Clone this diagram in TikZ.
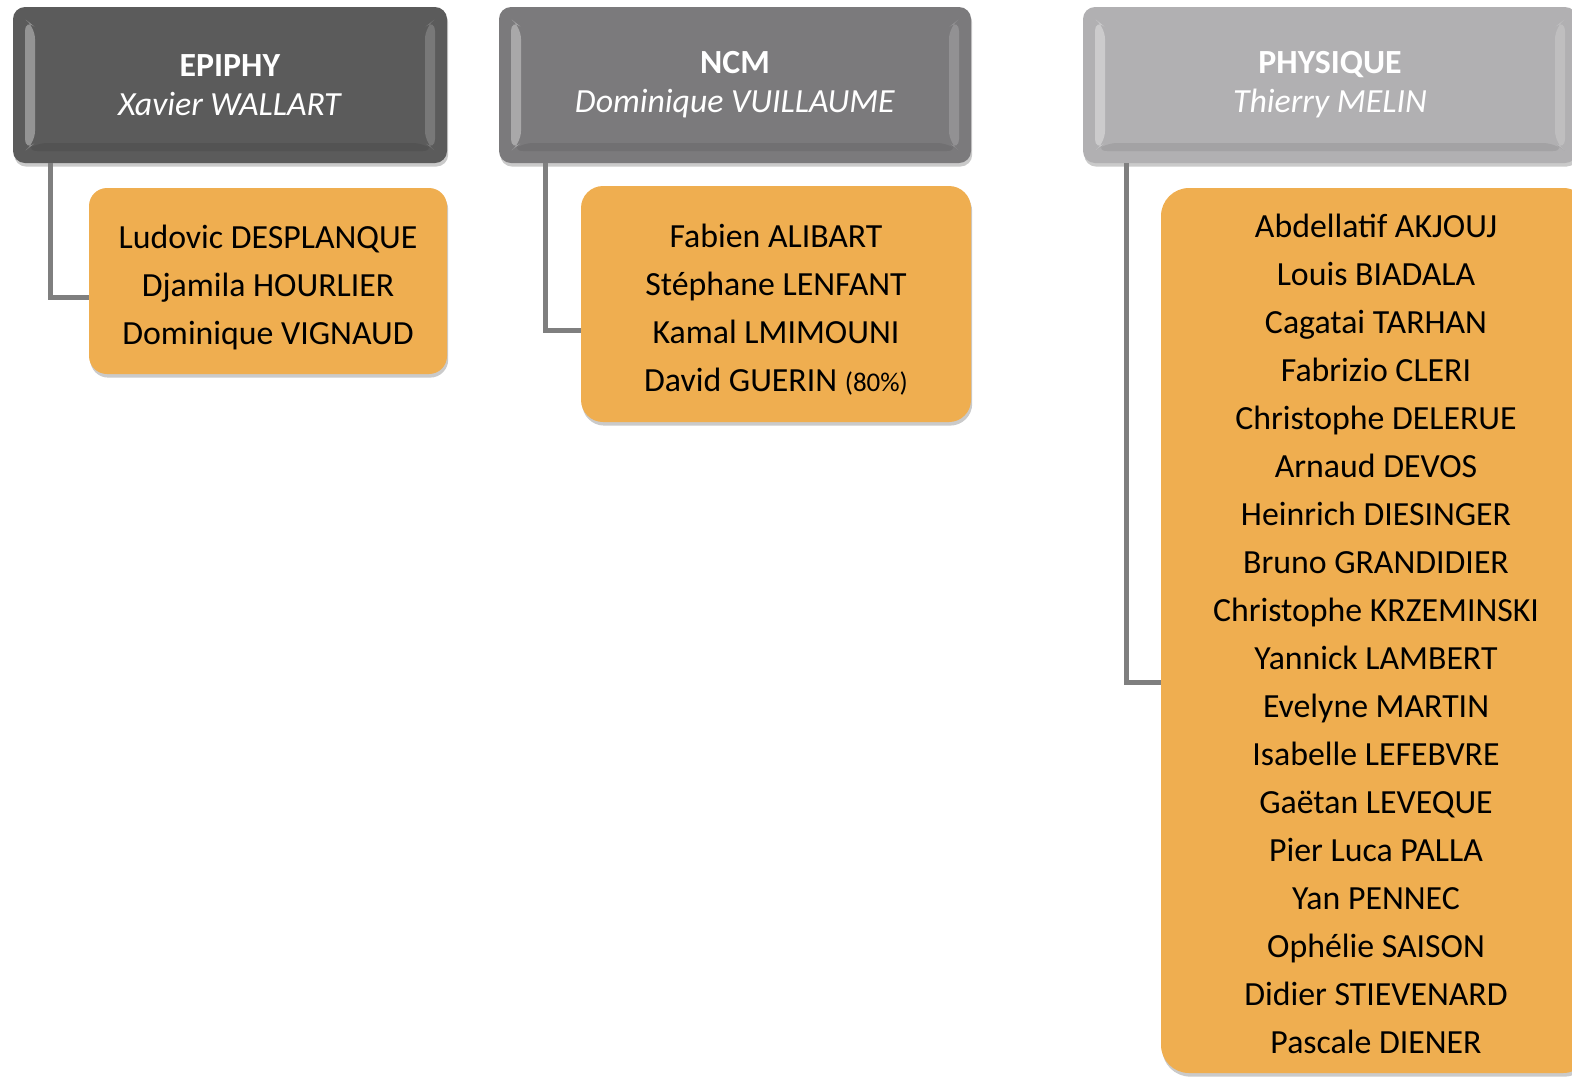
\documentclass[tikz,border=0pt]{standalone}
\usepackage{fontspec}
\setmainfont{Carlito}
\usepackage{xcolor}
\usetikzlibrary{shadows}
\definecolor{epi}{HTML}{5B5B5B}
\definecolor{ncm}{HTML}{7B7A7C}
\definecolor{phy}{HTML}{B1B0B2}
\definecolor{orng}{HTML}{EFAE50}
\definecolor{link}{HTML}{7F7F7F}
\newcommand{\mtop}{\rule{0pt}{20.2pt}}
\newcommand{\mbot}{\rule[-5pt]{0pt}{5pt}}
\tikzset{
  shade/.style={drop shadow={shadow xshift=0.6pt, shadow yshift=-1.8pt, opacity=0.35, fill=black!60}},
  bevel/.style={path picture={
    \fill[white,opacity=.35] ([shift={(6pt,-6pt)}]path picture bounding box.north west)
      -- ([shift={(11pt,-10pt)}]path picture bounding box.north west)
      -- ([shift={(11pt,10pt)}]path picture bounding box.south west)
      -- ([shift={(6pt,6pt)}]path picture bounding box.south west) -- cycle;
    \fill[white,opacity=.18] ([shift={(-6pt,-6pt)}]path picture bounding box.north east)
      -- ([shift={(-11pt,-10pt)}]path picture bounding box.north east)
      -- ([shift={(-11pt,10pt)}]path picture bounding box.south east)
      -- ([shift={(-6pt,6pt)}]path picture bounding box.south east) -- cycle;
    \fill[black,opacity=.08] ([shift={(6pt,6pt)}]path picture bounding box.south west)
      -- ([shift={(11pt,10pt)}]path picture bounding box.south west)
      -- ([shift={(-11pt,10pt)}]path picture bounding box.south east)
      -- ([shift={(-6pt,6pt)}]path picture bounding box.south east) -- cycle;
  }},
  head/.style={rectangle, rounded corners=6pt, text=white, align=center,
    minimum height=78pt, inner sep=0pt, shade, bevel,
    font=\fontsize{16.9}{19.5}\selectfont},
  member/.style={rectangle, fill=orng, text=black, align=center,
    inner sep=0pt, shade, font=\fontsize{16.9}{24}\selectfont},
  conn/.style={draw=link, line width=2.5pt},
}

\begin{document}
\begin{tikzpicture}[x=0.5pt,y=-0.5pt]
  \clip (0,0) rectangle (1572,1077);

  \node[head, fill=epi, minimum width=217pt] (hepi) at (230,85)
    {\textbf{EPIPHY}\\\textit{Xavier WALLART}};
  \node[head, fill=ncm, minimum width=236pt] (hncm) at (735,85)
    {\textbf{NCM}\\\textit{Dominique VUILLAUME}};
  \node[head, fill=phy, minimum width=247pt] (hphy) at (1330,85)
    {\textbf{PHYSIQUE}\\\textit{Thierry MELIN}};

  \node[member, rounded corners=9pt, minimum width=179pt, minimum height=93pt] (oepi) at (268,281)
    {\mtop Ludovic DESPLANQUE\\Djamila HOURLIER\\Dominique VIGNAUD\mbot};
  \node[member, rounded corners=11pt, minimum width=195pt, minimum height=118pt] (oncm) at (776,304)
    {\mtop Fabien ALIBART\\Stéphane LENFANT\\Kamal LMIMOUNI\\David GUERIN {\fontsize{13.5}{24}\selectfont(80\%)}\mbot};
  \node[member, rounded corners=14pt, minimum width=215pt, minimum height=442.5pt] (ophy) at (1376,630.5)
    {\mtop Abdellatif AKJOUJ\\Louis BIADALA\\Cagatai TARHAN\\Fabrizio CLERI\\Christophe DELERUE\\
     Arnaud DEVOS\\Heinrich DIESINGER\\Bruno GRANDIDIER\\Christophe KRZEMINSKI\\
     Yannick LAMBERT\\Evelyne MARTIN\\Isabelle LEFEBVRE\\Gaëtan LEVEQUE\\Pier Luca PALLA\\
     Yan PENNEC\\Ophélie SAISON\\Didier STIEVENARD\\Pascale DIENER\mbot};

  \draw[conn] ([xshift=19pt]hepi.south west) |- ([yshift=-8pt]oepi.west);
  \draw[conn] ([xshift=23.5pt]hncm.south west) |- ([yshift=-13pt]oncm.west);
  \draw[conn] ([xshift=22pt]hphy.south west) |- ([yshift=-26pt]ophy.west);
\end{tikzpicture}
\end{document}
